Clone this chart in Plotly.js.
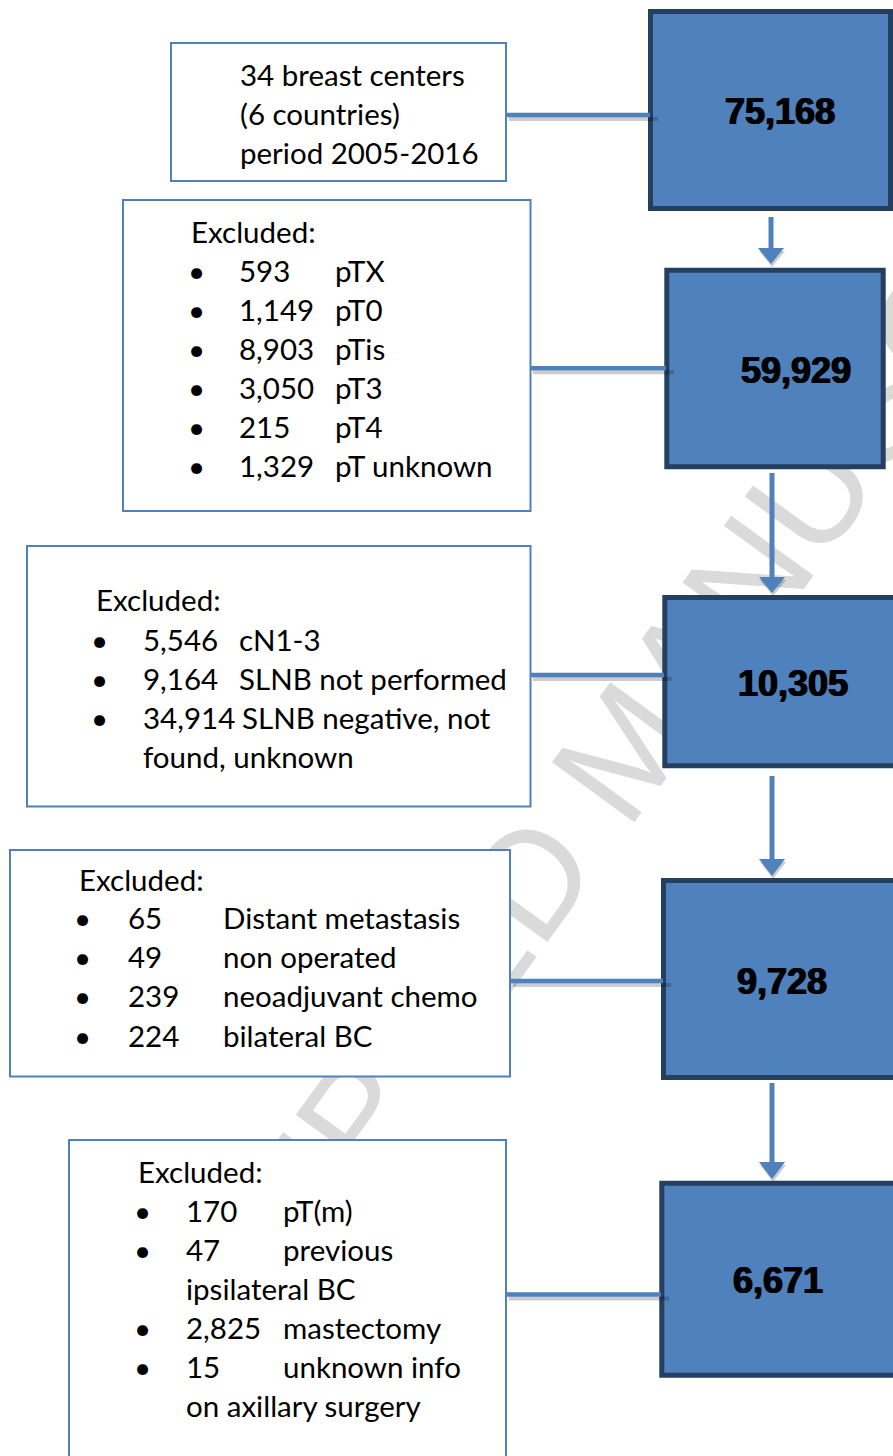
<!DOCTYPE html>
<html>
<head>
<meta charset="utf-8">
<script src="https://cdn.plot.ly/plotly-3.0.1.min.js"></script>
<style>
  html, body { margin: 0; padding: 0; background: #ffffff; }
  #wrap { position: relative; width: 893px; height: 1456px; overflow: hidden; }
  #wm, #chart { position: absolute; left: 0; top: 0; width: 893px; height: 1456px; }
</style>
</head>
<body>
<div id="wrap">
  <div id="wm"></div>
  <div id="chart"></div>
</div>
<script>
// ---------------- DATA ----------------
const stageCounts = [75168, 59929, 10305, 9728, 6671];
const sourceLines = ['34 breast centers', '(6 countries)', 'period 2005-2016'];
const excludedHeader = 'Excluded:';
const excl1Counts = [593, 1149, 8903, 3050, 215, 1329];
const excl1Reasons = ['pTX', 'pT0', 'pTis', 'pT3', 'pT4', 'pT unknown'];
const excl2Counts = [5546, 9164, 34914];
const excl2Reasons = ['cN1-3', 'SLNB not performed', 'SLNB negative, not|found, unknown'];
const excl3Counts = [65, 49, 239, 224];
const excl3Reasons = ['Distant metastasis', 'non operated', 'neoadjuvant chemo', 'bilateral BC'];
const excl4Counts = [170, 47, 2825, 15];
const excl4Reasons = ['pT(m)', 'previous|ipsilateral BC', 'mastectomy', 'unknown info|on axillary surgery'];
const watermarkText = 'ACCEPTED MANUSCRIPT';

// ---------------- LAYOUT GEOMETRY ----------------
const W = 893, H = 1456;
const BLUE = '#4f81bd', NAVY = '#243f60', SHADOW = 'rgba(0,0,0,0.20)';
const TEXT_FONT = 'Lato, "Open Sans", "Noto Sans", sans-serif';
const TEXT_SIZE = 29.5;
const NUM_FONT = '"Liberation Sans", Arial, sans-serif';

const sourceBox = {x0: 171, y0: 43, x1: 506, y1: 181, textX: 238, rows: [74, 113, 152]};
const exclBoxes = [
  {x0: 123, y0: 200, x1: 530.5, y1: 511, hx: 189, hy: 231, bx: 196, nx: 237, lx: 333, ry: 270, step: 39},
  {x0: 27, y0: 546, x1: 530.5, y1: 806.5, hx: 94, hy: 599.5, bx: 99.5, nx: 141, lx: 237, ry: 639, step: 39},
  {x0: 10, y0: 850, x1: 510, y1: 1076.5, hx: 77, hy: 879, bx: 82, nx: 125.5, lx: 221, ry: 917.5, step: 39.2},
  {x0: 69, y0: 1140, x1: 506, y1: 1480, hx: 136, hy: 1171, bx: 142, nx: 184, lx: 281, ry: 1210, step: 39}
];
const stageBoxes = [
  {x0: 650.5, y0: 11.5, x1: 890.5, y1: 208.5, tx: 779.5, ty: 111.5},
  {x0: 666.8, y0: 270.2, x1: 883.2, y1: 466.8, tx: 795.5, ty: 370},
  {x0: 664.8, y0: 597.5, x1: 905, y1: 765.8, tx: 793.3, ty: 683},
  {x0: 663.5, y0: 880.5, x1: 905, y1: 1077.5, tx: 781.5, ty: 981},
  {x0: 661.8, y0: 1183.2, x1: 905, y1: 1375.2, tx: 777.8, ty: 1280.7}
];
const connectors = [
  {y: 115, x0: 507, x1: 650},
  {y: 368.3, x0: 531, x1: 666},
  {y: 675, x0: 531, x1: 664},
  {y: 981, x0: 511, x1: 663},
  {y: 1294.5, x0: 507, x1: 661}
];
const arrows = [
  {x: 771, top: 217, head: 248, tip: 264},
  {x: 772, top: 473, head: 577, tip: 593},
  {x: 772, top: 776, head: 859, tip: 876},
  {x: 772, top: 1083, head: 1162, tip: 1179}
];

const fmt = n => n.toLocaleString('en-US');
const measureCtx = document.createElement('canvas').getContext('2d');
function textWidth(s) {
  measureCtx.font = TEXT_SIZE + 'px Lato, "Open Sans", sans-serif';
  return measureCtx.measureText(s).width;
}

// ---------------- WATERMARK (bottom plot) ----------------
const baseAxes = {
  xaxis: {range: [0, W], visible: false, fixedrange: true},
  yaxis: {range: [H, 0], visible: false, fixedrange: true}
};
Plotly.newPlot('wm', [], Object.assign({
  width: W, height: H,
  margin: {l: 0, r: 0, t: 0, b: 0},
  paper_bgcolor: '#ffffff', plot_bgcolor: '#ffffff',
  showlegend: false,
  annotations: [{
    x: 624, y: 748, xref: 'x', yref: 'y', showarrow: false,
    xanchor: 'center', yanchor: 'middle',
    text: watermarkText, textangle: -54,
    font: {family: '"Liberation Sans", Arial, sans-serif', size: 148, color: '#dadada'}
  }]
}, baseAxes), {staticPlot: true});

// ---------------- FLOWCHART (top plot) ----------------
const shapes = [];
const annotations = [];

function rect(b, fill, line, lw) {
  shapes.push({type: 'rect', xref: 'x', yref: 'y', x0: b.x0, y0: b.y0, x1: b.x1, y1: b.y1,
    fillcolor: fill, line: {color: line, width: lw}, layer: 'above'});
}
function hline(x0, x1, y, color, w) {
  shapes.push({type: 'line', xref: 'x', yref: 'y', x0: x0, x1: x1, y0: y, y1: y,
    line: {color: color, width: w}, layer: 'above'});
}
function vline(x, y0, y1, color, w) {
  shapes.push({type: 'line', xref: 'x', yref: 'y', x0: x, x1: x, y0: y0, y1: y1,
    line: {color: color, width: w}, layer: 'above'});
}
function tri(x, yTop, yTip, half, color) {
  shapes.push({type: 'path', xref: 'x', yref: 'y',
    path: 'M ' + (x - half) + ' ' + yTop + ' L ' + (x + half) + ' ' + yTop + ' L ' + x + ' ' + yTip + ' Z',
    fillcolor: color, line: {width: 0}, layer: 'above'});
}
function txt(x, y, s, opts) {
  opts = opts || {};
  annotations.push({x: x, y: y, xref: 'x', yref: 'y', showarrow: false,
    xanchor: opts.xanchor || 'left', yanchor: 'middle', text: s,
    font: opts.font || {family: TEXT_FONT, size: TEXT_SIZE, color: '#000000'}});
}

// white boxes
rect(sourceBox, '#ffffff', BLUE, 2);
exclBoxes.forEach(b => rect(b, '#ffffff', BLUE, 2));
// blue stage boxes
stageBoxes.forEach(b => rect(b, BLUE, NAVY, 5));
// connector shadows and connectors
connectors.forEach(c => hline(c.x0 + 2, c.x1 + 8, c.y + 4, SHADOW, 4));
connectors.forEach(c => hline(c.x0, c.x1, c.y, BLUE, 4.5));
// arrows
arrows.forEach(a => {
  tri(a.x + 1, a.head + 3, a.tip + 3, 13, SHADOW);
  vline(a.x, a.top, a.head + 1, BLUE, 5);
  tri(a.x, a.head, a.tip, 13, BLUE);
});

// source text
sourceLines.forEach((s, i) => txt(sourceBox.textX, sourceBox.rows[i], s));

// exclusion lists
const exclData = [
  [excl1Counts, excl1Reasons],
  [excl2Counts, excl2Reasons],
  [excl3Counts, excl3Reasons],
  [excl4Counts, excl4Reasons]
];
exclData.forEach((d, k) => {
  const b = exclBoxes[k];
  txt(b.hx, b.hy, excludedHeader);
  let row = 0;
  d[0].forEach((cnt, i) => {
    const parts = d[1][i].split('|');
    const y = b.ry + row * b.step;
    const numStr = fmt(cnt);
    txt(b.bx, y, '\u2022', {xanchor: 'center'});
    txt(b.nx, y, numStr);
    txt(Math.max(b.lx, b.nx + textWidth(numStr) + 7), y, parts[0]);
    row++;
    for (let j = 1; j < parts.length; j++) {
      txt(b.nx, b.ry + row * b.step, parts[j]);
      row++;
    }
  });
});

// stage counts
stageCounts.forEach((n, i) => {
  const b = stageBoxes[i];
  txt(b.tx, b.ty, fmt(n), {xanchor: 'center',
    font: {family: NUM_FONT, size: 36, weight: 'bold', color: '#000000',
      shadow: '0.8px 0 0 #000, -0.8px 0 0 #000'}});
});

Plotly.newPlot('chart', [], Object.assign({
  width: W, height: H,
  margin: {l: 0, r: 0, t: 0, b: 0},
  paper_bgcolor: 'rgba(0,0,0,0)', plot_bgcolor: 'rgba(0,0,0,0)',
  showlegend: false,
  shapes: shapes,
  annotations: annotations
}, baseAxes), {staticPlot: true});
</script>
</body>
</html>
